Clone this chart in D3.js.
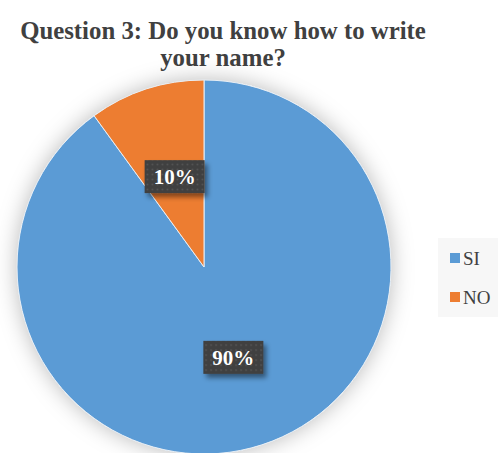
<!DOCTYPE html>
<html>
<head>
<meta charset="utf-8">
<script src="https://cdn.jsdelivr.net/npm/d3@7"></script>
<style>
  html, body { margin: 0; padding: 0; background: #ffffff; }
  svg { display: block; }
</style>
</head>
<body>
<script>
// Survey answers
const categories = ["SI", "NO"];
const values = [90, 10];
const labels = ["90%", "10%"];
const colors = ["#5b9bd5", "#ed7d31"];
const titleLines = ["Question 3: Do you know how to write", "your name?"];

const W = 498, H = 453;
const cx = 204, cy = 267, R = 187;

const svg = d3.select("body").append("svg")
  .attr("width", W).attr("height", H);

const defs = svg.append("defs");

// soft glow around the pie
const glow = defs.append("filter").attr("id", "pieGlow")
  .attr("x", "-30%").attr("y", "-30%").attr("width", "160%").attr("height", "160%");
glow.append("feDropShadow")
  .attr("dx", 0).attr("dy", 0).attr("stdDeviation", 11)
  .attr("flood-color", "#000").attr("flood-opacity", 0.28);

// shadow under value boxes
const boxShadow = defs.append("filter").attr("id", "boxShadow")
  .attr("x", "-30%").attr("y", "-30%").attr("width", "160%").attr("height", "180%");
boxShadow.append("feDropShadow")
  .attr("dx", 3).attr("dy", 4).attr("stdDeviation", 2.5)
  .attr("flood-color", "#000").attr("flood-opacity", 0.45);

// dotted fill for value boxes
const pat = defs.append("pattern").attr("id", "dots")
  .attr("patternUnits", "userSpaceOnUse").attr("width", 5).attr("height", 5);
pat.append("rect").attr("width", 5).attr("height", 5).attr("fill", "#3f3f3f");
pat.append("rect").attr("x", 2).attr("y", 2).attr("width", 1.5).attr("height", 1.5).attr("fill", "#5c5c5c");

// title
const title = svg.append("text")
  .attr("text-anchor", "middle")
  .attr("font-family", "'Liberation Serif', 'Times New Roman', serif")
  .attr("font-weight", "bold")
  .attr("font-size", 24.8)
  .attr("fill", "#404040");
titleLines.forEach((t, i) => {
  title.append("tspan").attr("x", 223).attr("y", 38.5 + i * 27.5).text(t);
});

// pie
const pie = d3.pie().sort(null).value(d => d.value);
const data = pie(categories.map((c, i) => ({ cat: c, value: values[i], label: labels[i], color: colors[i] })));
const arc = d3.arc().innerRadius(0).outerRadius(R);
const labelArc = d3.arc().innerRadius(0).outerRadius(190);

const g = svg.append("g").attr("transform", `translate(${cx},${cy})`);

g.append("circle").attr("r", R).attr("fill", "#ffffff").attr("filter", "url(#pieGlow)");

g.selectAll("path.slice").data(data).enter().append("path")
  .attr("class", "slice")
  .attr("d", arc)
  .attr("fill", d => d.data.color)
  .attr("stroke", "#e8eef4")
  .attr("stroke-width", 1);

// value boxes
const bw = 60, bh = 33;
const lbl = g.selectAll("g.lbl").data(data).enter().append("g")
  .attr("class", "lbl")
  .attr("transform", d => {
    const [x, y] = labelArc.centroid(d);
    return `translate(${x},${y})`;
  });
lbl.append("rect")
  .attr("x", -bw / 2).attr("y", -bh / 2)
  .attr("width", bw).attr("height", bh)
  .attr("fill", "url(#dots)")
  .attr("filter", "url(#boxShadow)");
lbl.append("text")
  .attr("text-anchor", "middle")
  .attr("dy", "0.35em")
  .attr("font-family", "'Liberation Serif', 'Times New Roman', serif")
  .attr("font-weight", "bold")
  .attr("font-size", 21)
  .attr("fill", "#ffffff")
  .text(d => d.data.label);

// legend
const legend = svg.append("g");
legend.append("rect")
  .attr("x", 438).attr("y", 238).attr("width", 60).attr("height", 79)
  .attr("fill", "#f7f7f7");
const item = legend.selectAll("g.item").data(categories).enter().append("g")
  .attr("class", "item")
  .attr("transform", (d, i) => `translate(450,${265 + i * 39})`);
item.append("rect")
  .attr("x", 0).attr("y", -12).attr("width", 10).attr("height", 10)
  .attr("fill", (d, i) => colors[i]);
item.append("text")
  .attr("x", 13).attr("y", 0)
  .attr("font-family", "'Liberation Serif', 'Times New Roman', serif")
  .attr("font-size", 19)
  .attr("fill", "#404040")
  .text(d => d);
</script>
</body>
</html>
